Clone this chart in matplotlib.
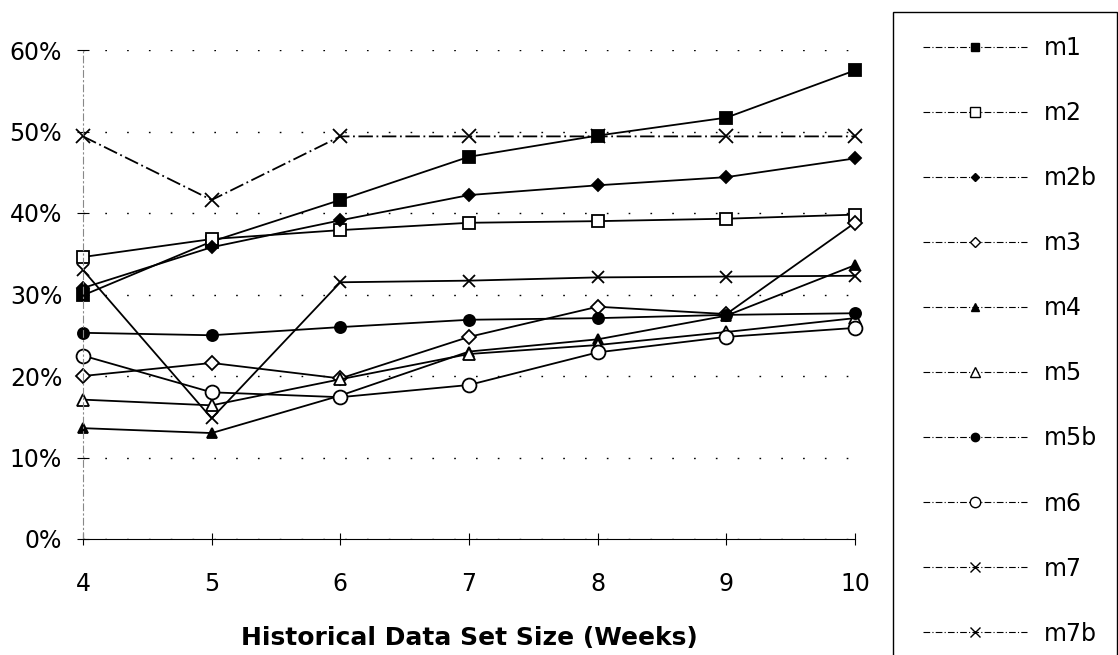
import matplotlib.pyplot as plt
from matplotlib.patches import Rectangle
from matplotlib.ticker import PercentFormatter

weeks = [4, 5, 6, 7, 8, 9, 10]

m1 = [29.9, 36.5, 41.6, 46.9, 49.5, 51.7, 57.5]
m2 = [34.6, 36.8, 37.9, 38.8, 39.0, 39.3, 39.8]
m2b = [30.8, 35.8, 39.1, 42.2, 43.4, 44.4, 46.7]
m3 = [20.0, 21.6, 19.7, 24.8, 28.5, 27.6, 38.8]
m4 = [13.6, 13.0, 17.6, 23.0, 24.5, 27.4, 33.6]
m5 = [17.1, 16.4, 19.6, 22.7, 23.8, 25.4, 27.1]
m5b = [25.3, 25.0, 26.0, 26.9, 27.1, 27.5, 27.7]
m6 = [22.5, 18.0, 17.4, 18.9, 22.9, 24.8, 25.9]
m7 = [49.4, 41.6, 49.4, 49.4, 49.4, 49.4, 49.4]
m7b = [33.0, 14.8, 31.5, 31.7, 32.1, 32.2, 32.3]

labels = ["m1", "m2", "m2b", "m3", "m4", "m5", "m5b", "m6", "m7", "m7b"]
series = [m1, m2, m2b, m3, m4, m5, m5b, m6, m7, m7b]

# marker, filled, size, linestyle
styles = [
    ("s", True, 8, "-"),
    ("s", False, 9, "-"),
    ("D", True, 6, "-"),
    ("D", False, 7, "-"),
    ("^", True, 7, "-"),
    ("^", False, 9, "-"),
    ("o", True, 8, "-"),
    ("o", False, 10, "-"),
    ("x", True, 10, (0, (8, 2, 1, 2))),
    ("x", True, 9, "-"),
]

plt.rcParams['font.family'] = ['DejaVu Sans']

fig = plt.figure(figsize=(11.18, 6.55), dpi=100)
ax = fig.add_axes([83 / 1118, 1 - 539 / 655, (855 - 83) / 1118, (539 - 50) / 655])

handles = []
for vals, lab, (mk, filled, ms, ls) in zip(series, labels, styles):
    h, = ax.plot(weeks, vals, color='black', lw=1.3, ls=ls, marker=mk,
                 markersize=ms, markerfacecolor='black' if filled else 'white',
                 markeredgecolor='black', markeredgewidth=1.3, clip_on=False,
                 label=lab)
    handles.append(h)

ax.set_xlim(4, 10)
ax.set_ylim(0, 60)
ax.set_xticks(weeks)
ax.set_yticks(range(0, 61, 10))
ax.yaxis.set_major_formatter(PercentFormatter(decimals=0))
ax.tick_params(axis='both', labelsize=17, direction='inout', length=8, width=0.8)
ax.tick_params(axis='y', pad=11)
ax.tick_params(axis='x', pad=20)
ax.grid(axis='y', linestyle=(0, (1.2, 14.5)), color='black', lw=1.0)

for s in ['top', 'right']:
    ax.spines[s].set_visible(False)
ax.spines['left'].set_linestyle((0, (6, 3, 1, 3)))
ax.spines['left'].set_color('#888888')
ax.spines['bottom'].set_linewidth(0.8)

ax.set_xlabel('Historical Data Set Size (Weeks)', fontsize=18, fontweight='bold',
              labelpad=21)

# legend box running off the bottom of the figure
fig.patches.append(Rectangle((893 / 1118, -0.05), 0.2, 1 - 12 / 655 + 0.05,
                             transform=fig.transFigure, fill=False,
                             edgecolor='black', lw=1.0))

leg_handles = []
for h in handles:
    lh, = plt.plot([], [], color='black', lw=0.8, ls=(0, (6, 2, 1, 2)),
                   marker=h.get_marker(), markersize=h.get_markersize() * 0.75,
                   markerfacecolor=h.get_markerfacecolor(),
                   markeredgecolor='black')
    leg_handles.append(lh)

fig.legend(leg_handles, labels, loc='upper left',
           bbox_to_anchor=(923 / 1118, 1 - 36 / 655), frameon=False,
           fontsize=17, handlelength=4.4, handletextpad=0.72, labelspacing=1.74,
           borderpad=0, borderaxespad=0, markerscale=1.0)

plt.savefig('out.png', dpi=100)
